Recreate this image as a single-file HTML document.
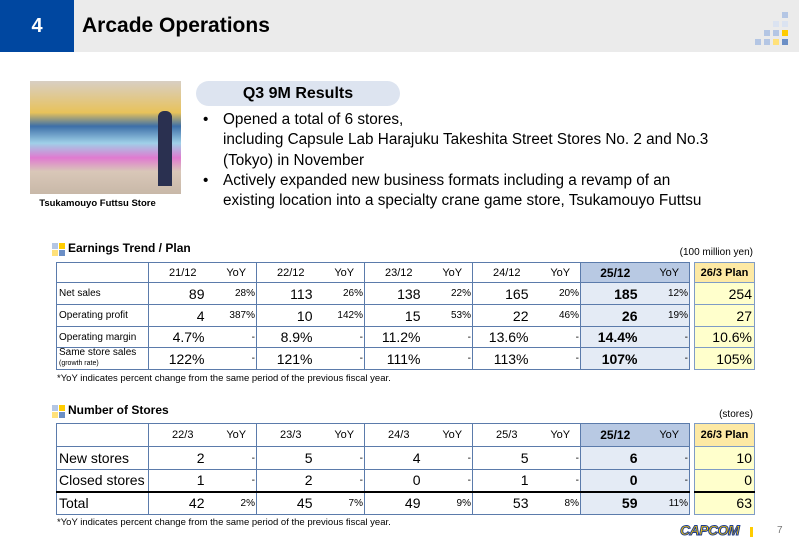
<!DOCTYPE html>
<html><head><meta charset="utf-8">
<style>
*{margin:0;padding:0;box-sizing:border-box}
body{width:799px;height:553px;position:relative;background:#fff;font-family:"Liberation Sans",sans-serif;color:#000;overflow:hidden}
.abs{position:absolute}
table{border-collapse:collapse;table-layout:fixed;position:absolute}
td{border:1px solid #5b7bab;overflow:hidden;white-space:nowrap}
.v{text-align:right;font-size:14px;padding-right:12px;border-right:none}
.y{text-align:right;font-size:10px;padding-right:1px;border-left:none}
.hd td{font-size:11px;text-align:center}
.lb{font-size:10px;padding-left:2px}
.hl{background:#e4ebf5}
.hlh{background:#b8c9e3}
.b{font-weight:bold}
.pl{background:#ffffcc;text-align:right;font-size:14px;padding-right:2px;border-color:#7f9cc6}
.plh{background:#fde9a4;font-weight:bold;font-size:11px;text-align:center;border-color:#7f9cc6}
.sq{position:absolute;width:6px;height:6px}
.tt td{border-top:2px solid #000}
</style></head><body>
<div class="abs" style="left:0;top:0;width:799px;height:52px;background:#ebebeb"></div>
<div class="abs" style="left:0;top:0;width:74px;height:52px;background:#0047a0;color:#fff;font-weight:bold;font-size:20px;text-align:center;line-height:52px">4</div>
<div class="abs" style="left:82px;top:14px;font-weight:bold;font-size:21px">Arcade Operations</div>
<div>
<div class="sq" style="left:782px;top:12px;background:#b4c6e4"></div>
<div class="sq" style="left:773px;top:21px;background:#dbe3f1"></div><div class="sq" style="left:782px;top:21px;background:#dbe3f1"></div>
<div class="sq" style="left:764px;top:30px;background:#b4c6e4"></div><div class="sq" style="left:773px;top:30px;background:#b4c6e4"></div><div class="sq" style="left:782px;top:30px;background:#ffcc00"></div>
<div class="sq" style="left:755px;top:39px;background:#b4c6e4"></div><div class="sq" style="left:764px;top:39px;background:#b4c6e4"></div><div class="sq" style="left:773px;top:39px;background:#ffe17a"></div><div class="sq" style="left:782px;top:39px;background:#6b8fc6"></div>
</div>

<div class="abs" style="left:30px;top:81px;width:151px;height:113px;background:linear-gradient(180deg,#d8cfc4 0%,#e8c25a 28%,#3d6fa8 40%,#9fd0e8 55%,#e07ad0 68%,#d9c7b8 80%,#c8b8a8 100%)">
<div class="abs" style="left:128px;top:30px;width:14px;height:75px;background:#2a3050;border-radius:6px 6px 0 0"></div>
</div>
<div class="abs" style="left:30px;top:198px;width:135px;text-align:center;font-size:9.5px;font-weight:bold">Tsukamouyo Futtsu Store</div>

<div class="abs" style="left:196px;top:81px;width:204px;height:25px;background:#dde4f0;border-radius:13px;text-align:center;font-weight:bold;font-size:16px;line-height:25px">Q3 9M Results</div>
<div class="abs" style="left:203px;top:110px;font-size:15.3px;line-height:20.3px">
<div style="position:relative;padding-left:20px"><span style="position:absolute;left:0">•</span>Opened a total of 6 stores,<br>including Capsule Lab Harajuku Takeshita Street Stores No. 2 and No.3<br>(Tokyo) in November</div>
<div style="position:relative;padding-left:20px"><span style="position:absolute;left:0">•</span>Actively expanded new business formats including a revamp of an<br>existing location into a specialty crane game store, Tsukamouyo Futtsu</div>
</div>

<div>
<div class="sq" style="left:52px;top:243px;background:#b4c6e4"></div><div class="sq" style="left:59px;top:243px;background:#ffcc00"></div>
<div class="sq" style="left:52px;top:250px;background:#ffe17a"></div><div class="sq" style="left:59px;top:250px;background:#6b8fc6"></div>
</div>
<div class="abs" style="left:68px;top:241px;font-weight:bold;font-size:12px">Earnings Trend / Plan</div>
<div class="abs" style="left:670px;top:247px;width:83px;text-align:right;font-size:10px">(100 million yen)</div>

<table style="left:56px;top:262px;width:633px">
<colgroup><col style="width:92px"><col style="width:68px"><col style="width:40px"><col style="width:68px"><col style="width:40px"><col style="width:68px"><col style="width:40px"><col style="width:68px"><col style="width:40px"><col style="width:69px"><col style="width:40px"></colgroup>
<tr class="hd" style="height:20px"><td></td><td style="border-right:none">21/12</td><td style="border-left:none">YoY</td><td style="border-right:none">22/12</td><td style="border-left:none">YoY</td><td style="border-right:none">23/12</td><td style="border-left:none">YoY</td><td style="border-right:none">24/12</td><td style="border-left:none">YoY</td><td class="hlh b" style="font-size:12px;border-right:none">25/12</td><td class="hlh" style="border-left:none">YoY</td></tr>
<tr style="height:22px"><td class="lb">Net sales</td><td class="v">89</td><td class="y">28%</td><td class="v">113</td><td class="y">26%</td><td class="v">138</td><td class="y">22%</td><td class="v">165</td><td class="y">20%</td><td class="v hl b">185</td><td class="y hl">12%</td></tr>
<tr style="height:22px"><td class="lb">Operating profit</td><td class="v">4</td><td class="y">387%</td><td class="v">10</td><td class="y">142%</td><td class="v">15</td><td class="y">53%</td><td class="v">22</td><td class="y">46%</td><td class="v hl b">26</td><td class="y hl">19%</td></tr>
<tr style="height:21px"><td class="lb">Operating margin</td><td class="v">4.7%</td><td class="y">-</td><td class="v">8.9%</td><td class="y">-</td><td class="v">11.2%</td><td class="y">-</td><td class="v">13.6%</td><td class="y">-</td><td class="v hl b">14.4%</td><td class="y hl">-</td></tr>
<tr style="height:22px"><td class="lb" style="line-height:10px">Same store sales<br><span style="font-size:7px">(growth rate)</span></td><td class="v">122%</td><td class="y">-</td><td class="v">121%</td><td class="y">-</td><td class="v">111%</td><td class="y">-</td><td class="v">113%</td><td class="y">-</td><td class="v hl b">107%</td><td class="y hl">-</td></tr>
</table>
<table style="left:694px;top:262px;width:61px">
<tr style="height:20px"><td class="plh">26/3 Plan</td></tr>
<tr style="height:22px"><td class="pl">254</td></tr>
<tr style="height:22px"><td class="pl">27</td></tr>
<tr style="height:21px"><td class="pl">10.6%</td></tr>
<tr style="height:22px"><td class="pl">105%</td></tr>
</table>
<div class="abs" style="left:57px;top:373px;font-size:9.5px">*YoY indicates percent change from the same period of the previous fiscal year.</div>

<div>
<div class="sq" style="left:52px;top:405px;background:#b4c6e4"></div><div class="sq" style="left:59px;top:405px;background:#ffcc00"></div>
<div class="sq" style="left:52px;top:412px;background:#ffe17a"></div><div class="sq" style="left:59px;top:412px;background:#6b8fc6"></div>
</div>
<div class="abs" style="left:68px;top:403px;font-weight:bold;font-size:12px">Number of Stores</div>
<div class="abs" style="left:670px;top:409px;width:83px;text-align:right;font-size:10px">(stores)</div>

<table style="left:56px;top:423px;width:633px">
<colgroup><col style="width:92px"><col style="width:68px"><col style="width:40px"><col style="width:68px"><col style="width:40px"><col style="width:68px"><col style="width:40px"><col style="width:68px"><col style="width:40px"><col style="width:69px"><col style="width:40px"></colgroup>
<tr class="hd" style="height:23px"><td></td><td style="border-right:none">22/3</td><td style="border-left:none">YoY</td><td style="border-right:none">23/3</td><td style="border-left:none">YoY</td><td style="border-right:none">24/3</td><td style="border-left:none">YoY</td><td style="border-right:none">25/3</td><td style="border-left:none">YoY</td><td class="hlh b" style="font-size:12px;border-right:none">25/12</td><td class="hlh" style="border-left:none">YoY</td></tr>
<tr style="height:23px"><td class="lb" style="font-size:14px">New stores</td><td class="v">2</td><td class="y">-</td><td class="v">5</td><td class="y">-</td><td class="v">4</td><td class="y">-</td><td class="v">5</td><td class="y">-</td><td class="v hl b">6</td><td class="y hl">-</td></tr>
<tr style="height:22px"><td class="lb" style="font-size:14px">Closed stores</td><td class="v">1</td><td class="y">-</td><td class="v">2</td><td class="y">-</td><td class="v">0</td><td class="y">-</td><td class="v">1</td><td class="y">-</td><td class="v hl b">0</td><td class="y hl">-</td></tr>
<tr class="tt" style="height:23px"><td class="lb" style="font-size:14px">Total</td><td class="v">42</td><td class="y">2%</td><td class="v">45</td><td class="y">7%</td><td class="v">49</td><td class="y">9%</td><td class="v">53</td><td class="y">8%</td><td class="v hl b">59</td><td class="y hl">11%</td></tr>
</table>
<table style="left:694px;top:423px;width:61px">
<tr style="height:23px"><td class="plh">26/3 Plan</td></tr>
<tr style="height:23px"><td class="pl">10</td></tr>
<tr style="height:22px"><td class="pl">0</td></tr>
<tr style="height:23px"><td class="pl" style="border-top:2px solid #000">63</td></tr>
</table>
<div class="abs" style="left:57px;top:517px;font-size:9.5px">*YoY indicates percent change from the same period of the previous fiscal year.</div>

<div class="abs" style="left:680px;top:522px;font-weight:bold;font-style:italic;font-size:14px;color:#ffcc00;-webkit-text-stroke:1px #1f3d8f;letter-spacing:-0.5px">CAPCOM</div>
<div class="abs" style="left:750px;top:527px;width:3px;height:10px;background:#ffcc00"></div>
<div class="abs" style="left:777px;top:525px;font-size:10px;color:#777">7</div>
</body></html>
